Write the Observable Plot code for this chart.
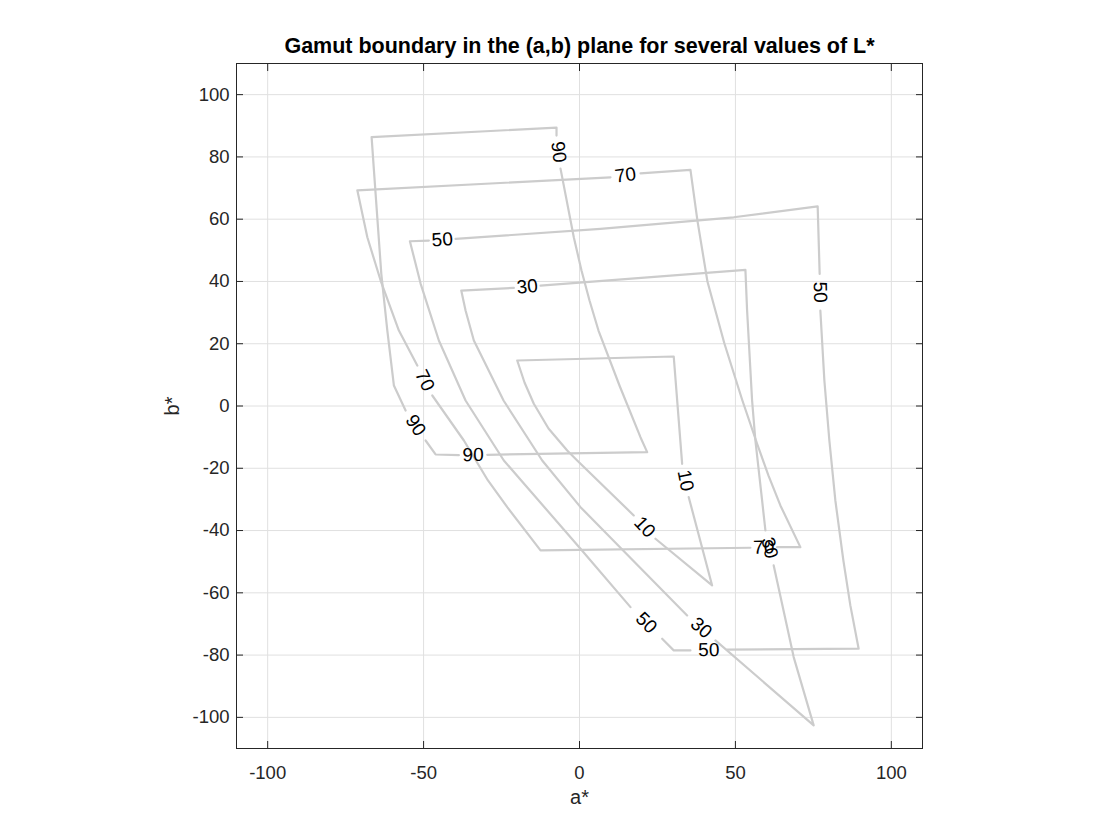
<!DOCTYPE html>
<html>
<head>
<meta charset="utf-8">
<script src="https://cdn.jsdelivr.net/npm/d3@7"></script>
<script src="https://cdn.jsdelivr.net/npm/@observablehq/plot@0.6"></script>
<style>
  html, body { margin: 0; padding: 0; background: #ffffff; }
  #chart svg { display: block; }
</style>
</head>
<body>
<div id="chart"></div>
<script>
// ---- Data: gamut boundary contours in the (a*, b*) plane, one list of pieces per L* level.
// Pieces are separated where the contour label sits (gap between end of a piece and start of the next).
const levels = [10, 30, 50, 70, 90];

const L10 = [
  [[35.03, -29.28], [42.53, -57.62], [24.36, -42.63]],
  [[17.40, -35.15], [-0.74, -17.50], [-3.94, -14.29], [-9.94, -7.22], [-14.65, 0.71], [-17.63, 7.54], [-19.97, 14.61], [30.22, 15.89], [32.92, -18.56]]
];

const L30 = [
  [[-12.50, 38.68], [53.21, 43.72], [53.75, 30.66], [55.35, 1.77], [56.41, -11.08], [58.56, -30.34], [59.62, -39.97]],
  [[62.28, -51.20], [68.69, -80.64], [75.10, -102.57], [43.59, -75.28]],
  [[34.52, -67.26], [0.32, -32.49], [-11.96, -17.50], [-24.36, 1.77], [-33.88, 21.03], [-36.54, 30.66], [-37.92, 37.08], [-21.06, 37.94]]
];

const L50 = [
  [[-39.74, 53.68], [6.73, 56.89], [49.46, 60.61], [76.38, 64.14], [77.02, 42.44]],
  [[77.24, 30.66], [78.53, 8.19], [80.13, -11.08], [82.05, -30.34], [84.62, -49.60], [86.86, -64.04], [89.52, -77.95], [47.34, -78.27]],
  [[35.58, -78.49], [30.22, -78.49], [26.51, -74.74]],
  [[16.35, -64.59], [0.32, -45.84], [-24.26, -17.50], [-36.54, 1.77], [-45.10, 21.03], [-50.96, 39.33], [-54.39, 52.91], [-48.30, 53.13]]
];

const L70 = [
  [[19.55, 74.74], [35.58, 75.83], [37.82, 59.55], [41.03, 39.97], [46.47, 20.06], [52.24, 1.77], [56.96, -12.13], [60.58, -22.31], [64.42, -31.94], [70.83, -45.33], [63.37, -45.33]],
  [[54.81, -45.52], [-12.50, -46.39], [-23.17, -32.49], [-29.36, -23.92], [-37.08, -11.08], [-47.21, 3.37]],
  [[-52.02, 13.00], [-57.92, 24.24], [-63.78, 40.29], [-68.04, 54.19], [-71.25, 69.26], [9.94, 73.45]]
];

const L90 = [
  [[-6.09, 76.24], [-1.83, 54.19], [0.64, 43.50], [3.21, 33.87], [6.09, 24.24], [12.82, 6.58], [19.55, -10.02], [21.70, -14.83], [-29.58, -15.67]],
  [[-38.69, -15.79], [-46.15, -15.57], [-49.36, -11.08]],
  [[-55.77, -1.44], [-59.52, 6.58], [-61.63, 24.24], [-63.56, 42.44], [-65.93, 75.76], [-66.67, 86.36], [-7.37, 89.41], [-7.37, 86.84]]
];

const contours = [L10, L30, L50, L70, L90];

const xTicks = [-100, -50, 0, 50, 100];
const yTicks = [-100, -80, -60, -40, -20, 0, 20, 40, 60, 80, 100];
const xDomain = [-110, 110];
const yDomain = [-110, 110];

const titleText = "Gamut boundary in the (a,b) plane for several values of L*";
const xLabel = "a*";
const yLabel = "b*";

// ---- Layout
const W = 1120, H = 840;
const mL = 236, mR = 198, mT = 63, mB = 92;
const FONT = "'Liberation Sans', Arial, Helvetica, sans-serif";
const AXC = "#262626";
const LINEC = "#cccccc";

const xs = Plot.scale({x: {domain: xDomain, range: [mL, W - mR]}});
const ys = Plot.scale({y: {domain: yDomain, range: [H - mB, mT]}});

// Line rows
const rows = [];
contours.forEach((pieces, li) => {
  pieces.forEach((piece, pi) => {
    piece.forEach(([a, b]) => rows.push({a, b, key: `${levels[li]}-${pi}`}));
  });
});

// Labels: one per gap between consecutive pieces (cyclic)
const labels = [];
contours.forEach((pieces, li) => {
  const n = pieces.length;
  for (let i = 0; i < n; i++) {
    const p = pieces[i][pieces[i].length - 1];
    const q = pieces[(i + 1) % n][0];
    const x1 = xs.apply(p[0]), y1 = ys.apply(p[1]);
    const x2 = xs.apply(q[0]), y2 = ys.apply(q[1]);
    let ang = Math.atan2(y2 - y1, x2 - x1) * 180 / Math.PI;
    if (ang > 90) ang -= 180;
    if (ang < -90) ang += 180;
    labels.push({a: (p[0] + q[0]) / 2, b: (p[1] + q[1]) / 2, text: String(levels[li]), rot: ang});
  }
});

const fmt = d => String(d);

const chart = Plot.plot({
  width: W,
  height: H,
  marginLeft: mL,
  marginRight: mR,
  marginTop: mT,
  marginBottom: mB,
  style: {fontFamily: FONT, background: "#ffffff", color: AXC},
  x: {domain: xDomain, ticks: xTicks},
  y: {domain: yDomain, ticks: yTicks},
  marks: [
    Plot.gridX(xTicks, {stroke: "#e0e0e0", strokeOpacity: 1, strokeWidth: 1}),
    Plot.gridY(yTicks, {stroke: "#e0e0e0", strokeOpacity: 1, strokeWidth: 1}),
    Plot.line(rows, {x: "a", y: "b", z: "key", stroke: LINEC, strokeWidth: 2.2, strokeLinejoin: "round"}),
    Plot.text(labels, {x: "a", y: "b", text: "text", rotate: "rot", fill: "#000000", fontSize: 19, fontFamily: FONT}),
    Plot.frame({stroke: AXC, strokeWidth: 1}),
    // inward ticks on all four sides
    Plot.axisX(xTicks, {anchor: "bottom", tickSize: -7, fill: "none", label: null, stroke: AXC}),
    Plot.axisX(xTicks, {anchor: "top", tickSize: -7, fill: "none", label: null, stroke: AXC}),
    Plot.axisY(yTicks, {anchor: "left", tickSize: -7, fill: "none", label: null, stroke: AXC}),
    Plot.axisY(yTicks, {anchor: "right", tickSize: -7, fill: "none", label: null, stroke: AXC}),
    // tick labels
    Plot.axisX(xTicks, {anchor: "bottom", tickSize: 0, tickPadding: 17, tickFormat: fmt, label: null, fill: AXC, fontSize: 18.5}),
    Plot.axisY(yTicks, {anchor: "left", tickSize: 0, tickPadding: 7, tickFormat: fmt, label: null, fill: AXC, fontSize: 18.5}),
    // axis titles and chart title
    Plot.text([xLabel], {frameAnchor: "bottom", lineAnchor: "middle", textAnchor: "middle", dy: 49, fontSize: 20, fill: AXC, fontFamily: FONT}),
    Plot.text([yLabel], {frameAnchor: "left", lineAnchor: "middle", textAnchor: "middle", dx: -64, rotate: -90, fontSize: 20, fill: AXC, fontFamily: FONT}),
    Plot.text([titleText], {frameAnchor: "top", lineAnchor: "middle", textAnchor: "middle", dy: -17, fontSize: 21.5, fontWeight: "bold", fill: "#000000", fontFamily: FONT})
  ]
});

document.getElementById("chart").appendChild(chart);
</script>
</body>
</html>
